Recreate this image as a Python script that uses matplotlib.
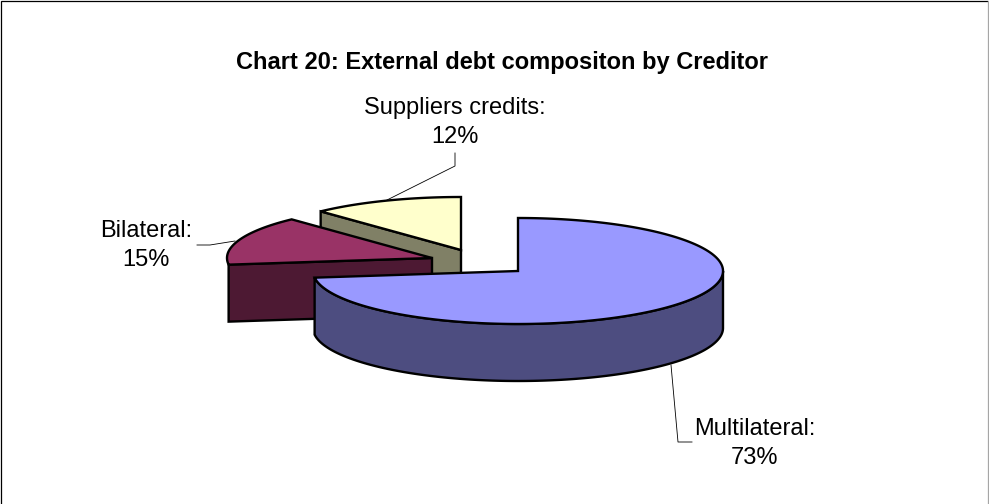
import numpy as np
import matplotlib
matplotlib.use("Agg")
import matplotlib.pyplot as plt
from matplotlib.patches import Polygon

title = "Chart 20: External debt compositon by Creditor"
categories = ["Multilateral", "Bilateral", "Suppliers credits"]
values = [73, 15, 12]
top_colors = ["#9999FF", "#993366", "#FFFFCC"]
side_colors = ["#4D4D80", "#4D1933", "#808066"]

# layout (pixels)
centers = [(518, 271), (432, 258), (461, 250)]
RX, RY, DEPTH = 205, 53, 57
LW = 1.7
label_pos = [(755, 443.5), (146, 245.5), (455, 122.5)]
leaders = [[(671, 365), (678, 442), (692, 442)],
           [(235, 241), (210, 245), (197, 245)],
           [(387, 200), (455, 166), (455, 153)]]

plt.rcParams["font.family"] = ["Liberation Sans", "DejaVu Sans"]
fig = plt.figure(figsize=(9.89, 5.04), dpi=100)
ax = fig.add_axes([0, 0, 1, 1])
ax.set_xlim(0, 989)
ax.set_ylim(504, 0)
ax.axis("off")

# chart frame: top and left dark, right edge grey, no bottom line
ax.plot([0.6, 0.6, 987], [504, 0.6, 0.6], color="black", lw=0.9, zorder=0,
        solid_joinstyle="miter", clip_on=False)
ax.plot([988, 988], [1, 504], color="#A6A6A6", lw=0.9, zorder=0)


def rim(c, a0, a1):
    t = np.radians(np.linspace(a0, a1, max(int(abs(a1 - a0)) * 2, 2)))
    return np.column_stack([c[0] + RX * np.sin(t), c[1] - RY * np.cos(t)])


def poly(pts, color, z):
    ax.add_patch(Polygon(pts, closed=True, fc=color, ec="black", lw=LW,
                         joinstyle="miter", zorder=z))


total = sum(values)
ends = np.cumsum(values) / total * 360
starts = np.r_[0, ends[:-1]]
shift = np.array([0, DEPTH])

# back to front: suppliers, bilateral, multilateral
for z, i in enumerate([2, 1, 0], start=1):
    c = np.array(centers[i], float)
    a0, a1 = starts[i], ends[i]
    # cut face on the start edge
    if i > 0:
        e = rim(c, a0, a0)[0]
        poly([c, e, e + shift, c + shift], side_colors[i], z)
    # outer rim (only a substantial front-facing part is drawn)
    lo, hi = max(a0, 90), min(a1, 270)
    if hi - lo > 10:
        r = rim(c, lo, hi)
        poly(np.vstack([r, (r + shift)[::-1]]), side_colors[i], z)
    # top face
    poly(np.vstack([[c], rim(c, a0, a1)]), top_colors[i], z)

ax.text(502, 62, title, ha="center", va="center", fontsize=17.05,
        fontweight="bold", color="black", zorder=10)

for cat, val, (x, y), pts in zip(categories, values, label_pos, leaders):
    ax.text(x, y, f"{cat}:\n{val}%", ha="center", va="center", fontsize=17.05,
            linespacing=1.4, color="black", zorder=10)
    ax.plot(*zip(*pts), color="black", lw=0.6, zorder=0.5)

fig.savefig("out.png", dpi=100)
